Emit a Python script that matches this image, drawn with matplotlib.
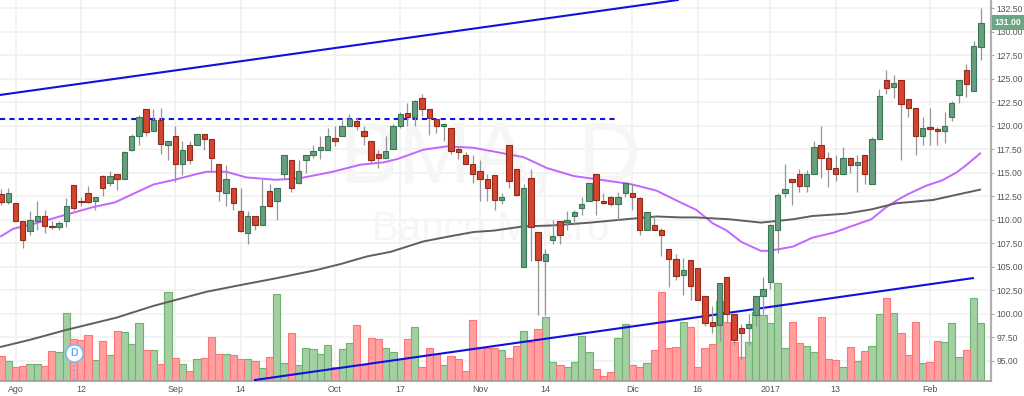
import numpy as np
import matplotlib
matplotlib.use("Agg")
import matplotlib.pyplot as plt

plt.rcParams['font.family'] = ['Liberation Sans', 'DejaVu Sans']

opens = [112.75,111.9,111.75,109.9,108.85,109.85,110.4,109.35,109.25,109.9,113.7,111.95,112.85,112.0,114.7,113.9,114.85,114.35,117.45,118.95,121.8,119.4,120.6,117.9,118.9,115.9,117.9,117.9,119.15,118.6,115.9,112.85,113.4,110.9,108.6,110.4,109.4,113.05,111.95,114.85,116.4,113.9,116.4,116.85,117.45,117.45,118.7,
         118.9,119.95,120.45,119.45,118.4,116.95,116.55,117.55,120.0,121.3,120.95,122.9,121.8,120.7,119.95,119.7,117.55,116.9,115.95,115.2,114.35,114.75,112.05,117.9,115.35,104.95,114.4,108.7,105.6,107.8,109.9,109.8,110.4,111.3,111.95,114.85,111.95,112.45,111.7,112.85,112.85,112.3,108.9,109.4,108.9,106.85,105.85,
         104.15,105.7,104.9,101.95,99.1,98.8,103.9,99.95,98.55,98.45,99.9,101.85,103.4,108.95,112.8,114.3,114.85,113.55,114.85,117.9,116.6,115.45,114.85,116.55,115.85,116.85,113.8,118.55,124.9,124.15,124.9,122.85,121.85,118.9,119.9,119.6,119.4,120.9,123.3,125.9,123.65,128.4]
closes = [111.85,112.85,109.9,107.85,109.95,110.4,109.3,109.25,109.65,111.45,111.2,111.85,111.9,112.45,113.35,114.7,114.35,117.2,118.95,120.9,119.35,120.6,118.0,118.35,115.9,117.45,116.35,119.15,118.55,116.6,113.1,114.35,111.75,108.8,110.4,109.4,111.5,111.45,113.4,116.85,113.4,115.2,116.9,117.3,117.75,118.85,118.4,
          120.0,120.7,119.95,118.9,116.3,116.55,117.3,120.0,121.2,120.95,122.65,121.8,120.8,119.95,120.2,117.3,117.2,115.9,114.85,114.35,113.4,112.05,112.45,114.15,112.65,113.4,109.25,105.75,106.35,108.3,108.4,109.95,110.85,111.7,113.9,112.1,111.75,111.7,112.45,113.9,112.45,108.9,110.85,108.9,108.4,105.85,104.0,
          104.65,102.95,101.45,99.0,98.7,103.3,99.95,97.2,97.95,98.9,101.85,102.6,109.45,112.65,113.3,114.05,113.55,114.85,117.7,116.6,115.35,114.85,116.55,115.85,116.1,114.85,118.55,123.2,123.95,124.5,122.35,121.85,118.9,119.75,119.65,119.4,120.0,122.4,124.9,124.4,128.45,130.9]
highs = [113.3,113.4,111.75,109.9,110.9,111.95,111.0,109.85,109.9,112.3,113.7,112.4,113.55,112.45,114.75,115.15,114.85,117.3,119.15,121.15,121.8,121.8,121.9,118.35,120.0,118.4,118.4,119.15,119.15,118.6,115.9,115.85,113.4,113.4,110.9,110.4,114.35,113.8,113.4,116.85,116.4,116.4,116.9,117.95,118.95,119.75,120.0,
         120.6,121.25,120.9,120.0,118.4,117.45,118.9,120.2,121.45,122.4,122.75,123.4,121.8,120.7,120.3,119.7,117.8,117.25,116.9,116.4,114.85,114.75,112.85,117.9,115.35,113.8,115.4,108.7,106.9,109.95,109.9,110.9,111.05,112.45,113.9,114.85,112.8,112.55,112.95,113.9,113.75,112.4,110.85,110.4,109.1,106.85,106.35,
         105.9,105.7,104.9,101.95,100.85,103.3,103.9,99.95,98.9,99.95,101.85,103.9,109.6,112.8,115.9,114.3,115.4,115.3,118.4,120.0,117.25,116.9,117.75,116.7,116.9,116.85,118.8,123.9,125.95,125.4,124.9,122.85,121.85,120.95,121.85,119.9,121.5,122.65,124.9,126.6,129.0,132.45]
lows = [111.6,111.7,109.9,107.0,108.4,108.95,108.6,109.0,108.9,109.2,111.05,111.5,111.75,111.05,112.5,113.55,113.2,114.35,117.35,117.95,118.95,119.4,117.0,116.3,114.0,114.8,115.95,117.9,117.45,115.05,111.95,111.5,111.0,108.65,107.45,108.95,109.4,111.35,110.0,114.35,112.95,113.8,114.95,116.55,116.45,117.45,117.8,
        118.9,119.95,119.5,117.95,116.05,115.5,116.55,117.55,119.75,120.0,120.0,121.0,119.0,119.2,118.35,116.95,116.45,115.9,113.9,111.95,111.95,111.0,111.7,113.4,112.55,104.95,105.65,99.9,99.9,107.45,107.45,108.95,109.45,110.5,111.95,110.55,111.7,111.5,110.0,112.45,111.0,108.35,108.9,108.9,106.2,102.9,103.55,
        102.0,101.5,101.45,98.7,97.95,97.15,99.05,96.7,95.1,96.7,98.7,100.0,102.65,106.5,112.45,111.55,112.9,112.9,114.85,114.4,113.45,114.15,114.85,114.95,112.9,113.85,113.8,118.55,123.4,122.9,116.35,120.95,116.9,117.9,117.9,117.9,118.2,120.45,122.4,123.0,123.65,127.0]
volumes = [72,57,38,41,47,47,42,86,83,202,122,120,134,60,117,75,146,143,107,170,89,89,47,263,65,48,28,62,65,128,77,78,74,64,62,57,36,68,259,51,140,44,97,92,77,106,40,
           92,110,164,45,125,122,97,83,62,122,158,39,97,78,44,73,62,27,180,98,96,96,89,65,101,146,115,152,190,53,44,38,53,132,83,32,11,23,125,168,44,40,52,89,263,97,98,
           175,158,38,97,108,237,175,113,68,113,203,194,170,292,97,175,110,101,85,188,63,61,39,99,56,87,101,199,245,201,140,75,175,51,53,116,113,170,68,89,247,170]

ma_fast_x = [0,1.7,4.45,9,12.7,15.7,18.2,21,23.9,26.9,28.3,31.05,33.8,37.9,41.1,45.7,49.5,52.7,54.6,58.2,61.4,65.1,67.9,72,75.2,78.9,83.5,86.7,90.3,93.6,95.8,98.1,99.9,102,104.7,105.9,109.1,111.8,114.8,117.3,119.9,121.9,123.5,124.9,127.4,129.7,131.6,132.9,134.9]
ma_fast = [108.25,109.05,109.55,110.55,111.35,111.85,112.75,113.75,114.25,114.85,115.1,115.1,114.5,114.25,114.4,115.1,115.85,116.1,116.45,117.45,117.8,117.65,117.25,116.65,115.5,114.65,114.15,113.8,113.1,111.85,111.05,109.6,108.9,107.65,106.7,106.7,107.15,108.1,108.65,109.35,110.05,111.3,112.1,112.7,113.6,114.2,115.0,115.75,117.05]
ma_slow_x = [0,4,9,15.9,21,28.3,32.9,38,43.4,46.8,50.4,53.7,58.2,61.9,65.1,67.9,72,76.1,81.2,86.7,90.3,93.6,95.8,100.4,104.7,109.1,111.8,116.4,119.9,123.3,128.4,132.5,134.9]
ma_slow = [96.5,97.25,98.3,99.6,100.85,102.35,103.05,103.8,104.65,105.3,106.1,106.6,107.7,108.25,108.7,108.85,109.3,109.4,109.7,110.1,110.35,110.25,110.25,110.05,109.7,110.05,110.4,110.65,111.1,111.75,112.1,112.8,113.2]

upper_line_x = [-0.14, 93.25]
upper_line = [123.26, 133.35]
lower_line_x = [35, 133.9]
lower_line = [92.98, 103.8]
dashed_x = [-0.14, 84.8]
dashed_y = [120.7, 120.7]

price_ticks = [95,97.5,100,102.5,105,107.5,110,112.5,115,117.5,120,122.5,125,127.5,130,132.5]
date_ticks = [2,11,24,33,46,55,66,75,87,96,106,115,128]
date_labels = ['Ago','12','Sep','14','Oct','17','Nov','14','Dic','16','2017','13','Feb']

pmin, pmax = 92.87, 133.35
vol_scale = 1 / (3 * 9.413)
vol_base = pmin + 1 / 9.413

fig = plt.figure(figsize=(10.24, 3.96), dpi=100)
ax = fig.add_axes([0, 15 / 396, 991 / 1024, 381 / 396])
x = np.arange(len(opens))
o, c, h, l = map(np.array, (opens, closes, highs, lows))
up = c >= o

ax.set_axisbelow(True)
ax.grid(color='#f0f0f0', lw=1.1)

# watermark
ax.text(0.495, 0.58, 'BMA, D', transform=ax.transAxes, ha='center', va='center',
        fontsize=63, color='#f6f6f6', zorder=1)
ax.text(0.495, 0.40, 'Banco Macro', transform=ax.transAxes, ha='center', va='center',
        fontsize=29, color='#f6f6f6', zorder=1)

# volume
vol_h = np.array(volumes) * vol_scale
ax.bar(x[up], vol_h[up], width=1.0, bottom=vol_base, color='#a3cfa3', edgecolor='#6db36d', lw=0.8, zorder=2)
ax.bar(x[~up], vol_h[~up], width=1.0, bottom=vol_base, color='#ff9f9f', edgecolor='#ff7474', lw=0.8, zorder=2)

# lines
ax.plot(upper_line_x, upper_line, color='#1010e0', lw=1.5, zorder=3)
ax.plot(lower_line_x, lower_line, color='#1010e0', lw=1.5, zorder=3)
ax.plot(dashed_x, dashed_y, color='#1010e0', lw=1.5, ls=(0, (2.5, 2)), zorder=3)
ax.plot(ma_fast_x, ma_fast, color='#c266ff', lw=1.4, zorder=3)
ax.plot(ma_slow_x, ma_slow, color='#5f5f5f', lw=1.4, zorder=3)

# candles
ax.vlines(x, l, h, color='#969696', lw=0.9, zorder=4)
ax.bar(x[up], (c - o)[up], width=0.74, bottom=o[up], color='#669e7e', edgecolor='#3a7757', lw=0.8, zorder=5)
ax.bar(x[~up], (o - c)[~up], width=0.74, bottom=c[~up], color='#d5442f', edgecolor='#8f2a1c', lw=0.8, zorder=5)

# dividend marker
ax.plot([10, 10], [vol_base, 95.85], color='#7fa8ee', lw=1.2, ls=':', zorder=6)
ax.plot([10], [95.85], marker='o', ms=12.5, mfc='white', mec='#78bdf2', mew=1.2, zorder=7)
ax.text(10, 95.85, 'D', ha='center', va='center', fontsize=7.5, fontweight='bold', color='#63aef0', zorder=8)

ax.set_xlim(-0.14, 136.4)
ax.set_ylim(pmin, pmax)
ax.set_xticks(date_ticks)
ax.set_xticklabels(date_labels)
ax.yaxis.tick_right()
ax.set_yticks(price_ticks)
ax.set_yticklabels([f'{p:.2f}' for p in price_ticks])
ax.tick_params(axis='y', length=2.5, width=0.8, color='#aaaaaa', labelsize=6.2, labelcolor='#555555', pad=1.2)
ax.tick_params(axis='x', length=0, labelsize=6.4, labelcolor='#555555', pad=3)

for side in ('top', 'left'):
    ax.spines[side].set_visible(False)
ax.spines['right'].set_color('#b0b0b0')
ax.spines['right'].set_linewidth(1.6)
ax.spines['bottom'].set_color('#a0a0a0')
ax.spines['bottom'].set_linewidth(1.2)

ax.annotate('131.00', xy=(1.0, 131.0), xycoords=('axes fraction', 'data'), xytext=(2.6, 0),
            textcoords='offset points', ha='left', va='center', fontsize=6.2, fontweight='bold', color='white',
            bbox=dict(boxstyle='square,pad=0.35', fc='#6ba583', ec='none'), annotation_clip=False, zorder=10)

fig.savefig('out.png', dpi=100)
